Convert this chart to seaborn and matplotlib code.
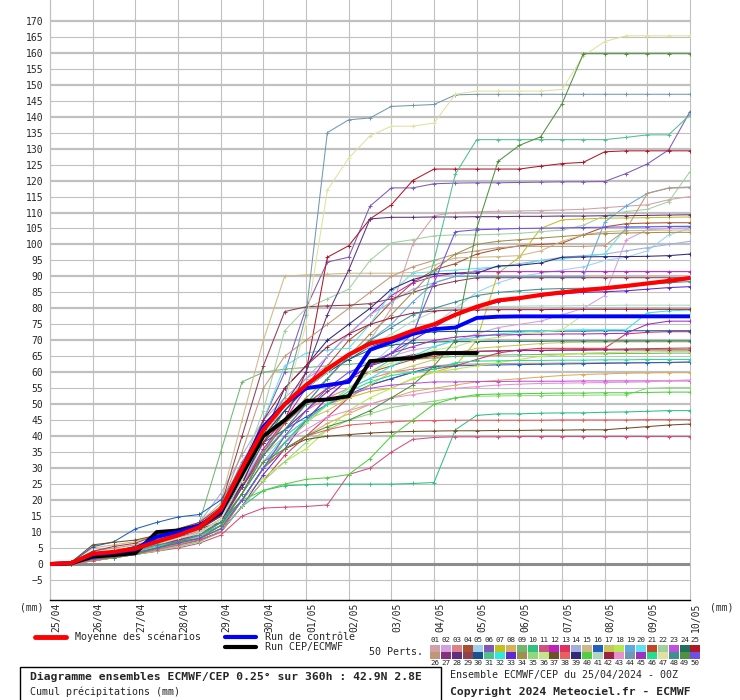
import pandas as pd
import seaborn as sns
import matplotlib.pyplot as plt
import matplotlib.transforms as mtransforms
from matplotlib.lines import Line2D
from matplotlib.patches import Rectangle

# time axis: one value every 12 h over 360 h (25/04 00Z -> 10/05 00Z)
hours = list(range(0, 361, 12))
day_labels = ["25/04", "26/04", "27/04", "28/04", "29/04", "30/04", "01/05", "02/05",
              "03/05", "04/05", "05/05", "06/05", "07/05", "08/05", "09/05", "10/05"]

member_colors = [
    "#d4a0a8", "#d4a0e0", "#e08088", "#a85030", "#a0d0f0", "#8058b8", "#c0c020", "#d8b060",
    "#70b870", "#30c080", "#d05080", "#c020c0", "#e03060", "#a0b0e0", "#d0b888", "#2060c0",
    "#c8c860", "#b8e850", "#60a8e0", "#60e0f0", "#c04828", "#a0d0a0", "#c050e0", "#207060",
    "#b01828", "#c09878", "#883080", "#603080", "#904050", "#185090", "#50c090", "#30e8e0",
    "#6028d0", "#a09050", "#90d880", "#c0e888", "#705028", "#e86060", "#302878", "#50d040",
    "#b0d8c0", "#a02040", "#e890d0", "#7098b0", "#a030c0", "#20e090", "#e0e0a0", "#409090",
    "#509040", "#7050e0",
]

# cumulative precipitation (mm) of the 50 perturbed members
m01 = [0, 0.3, 2.5, 3.5, 5, 7, 9, 10.5, 15, 25, 38, 50, 58, 62, 65, 70, 80, 100, 109, 110, 110.2, 110.4, 110.5, 110.6, 110.8, 111, 111.5, 112, 112.4, 114, 115]
m02 = [0, 0.2, 2, 3, 4, 6, 8, 10, 14, 25, 36, 45, 50, 55, 58, 62, 65, 67, 68, 70, 72, 74, 75, 76, 78, 80, 84, 101.4, 104.6, 105, 105.2]
m03 = [0, 0.2, 2, 3, 4, 6, 7.5, 9, 13, 22, 34, 42, 48, 52, 55, 58, 60, 61, 62, 62.5, 62.6, 62.7, 62.8, 62.8, 62.9, 62.9, 63, 63, 63, 63, 63.2]
m04 = [0, 0.3, 3, 4, 5, 7, 9, 11, 15, 28, 40, 48, 55, 62, 70, 75, 82, 88, 92, 94, 97, 98.5, 99.6, 100, 100.4, 103, 105.5, 106.5, 106.7, 106.8, 106.8]
m05 = [0, 0.2, 2, 3, 4, 6, 8, 10, 14, 26, 36, 44, 50, 55, 58, 62, 68, 72, 75, 80, 85, 88, 90, 91, 92, 93, 95, 96, 98, 103, 105]
m06 = [0, 0.2, 2, 3, 4.5, 6.5, 8.5, 10, 14, 28, 45, 60, 80, 94.5, 96, 112, 117.7, 117.7, 119, 119.2, 119.3, 119.3, 119.4, 119.5, 119.6, 119.6, 119.7, 122.2, 125.2, 129.6, 141.6]
m07 = [0, 0.1, 1.5, 2.5, 3.5, 5, 6.5, 8, 11, 20, 30, 40, 45, 50, 52, 54, 55, 58, 60, 62, 70, 91, 96, 105, 107.7, 108, 108.2, 108.3, 108.4, 108.5, 108.6]
m08 = [0, 0.1, 1.5, 2.5, 3.5, 5, 6.5, 8, 11, 20, 30, 36, 40, 44, 47, 50, 52, 54, 55, 56, 57, 57.5, 58, 58.5, 59, 59.3, 59.5, 59.7, 59.8, 59.9, 59.9]
m09 = [0, 0.3, 3, 4, 5, 7, 9, 13, 35, 57, 60, 61, 61.5, 62, 62.5, 63, 63.5, 64, 64.5, 65, 65.2, 65.4, 65.5, 65.6, 65.7, 65.8, 65.8, 65.9, 65.9, 66, 66]
m10 = [0, 0.1, 1, 2, 3, 4, 5.5, 7, 10, 18, 23, 24.5, 24.8, 25, 25, 25, 25, 25.2, 25.5, 42, 46.5, 47, 47, 47.2, 47.3, 47.3, 47.5, 47.6, 47.8, 48, 48]
m11 = [0, 0.1, 1, 2, 3, 4, 5, 6.5, 9, 15, 17.5, 17.8, 18, 18.5, 28, 30, 35, 39, 39.6, 39.8, 39.8, 39.8, 39.9, 39.9, 39.9, 39.9, 39.9, 39.9, 39.9, 39.9, 39.9]
m12 = [0, 0.2, 2, 3, 4, 6, 8, 9.5, 13, 24, 36, 45, 55, 65, 72, 78, 84, 88, 90, 91, 91.5, 91.5, 91.5, 91.5, 91.5, 91.5, 91.5, 91.5, 91.5, 91.5, 91.5]
m13 = [0, 0.1, 1, 2, 3, 4.5, 6, 7.5, 10, 18, 26, 34, 40, 46, 52, 56, 58, 60, 61, 62, 64, 66, 67, 67.5, 67.5, 67.5, 67.5, 72, 72.5, 72.7, 72.7]
m14 = [0, 0.3, 3, 4, 5, 7, 10, 13, 22, 34, 45, 52, 58, 65, 72, 78, 82, 86, 88, 90, 92, 93, 94, 95, 96, 96.5, 97, 98, 99, 100, 101]
m15 = [0, 0.5, 5, 6, 7, 9, 11, 13, 19, 45, 70, 90, 90.5, 90.7, 91, 91, 91, 91.2, 93.5, 95.8, 96, 96.2, 96.5, 98, 101, 103, 104, 104.3, 104.4, 104.5, 104.5]
m16 = [0, 0.5, 5.4, 7, 11, 13, 14.7, 15.5, 20, 30, 38, 42, 46, 50, 53, 56, 58, 60, 61.8, 62, 62.2, 62.3, 62.4, 62.5, 62.6, 62.7, 62.8, 62.9, 63, 63.1, 63.2]
m17 = [0, 0.1, 1.5, 2.5, 3.5, 5, 6.5, 8, 12, 24, 34, 40, 45, 48, 52, 56, 60, 62, 64, 66, 67.5, 68, 68.5, 69, 69.3, 69.4, 69.4, 69.5, 69.5, 69.5, 69.5]
m18 = [0, 0.1, 1.5, 2.5, 3.5, 5, 6.5, 8, 11, 20, 27, 32, 36, 42, 48, 52, 55, 58, 60, 61, 62, 63, 64, 65, 65.5, 66, 66.2, 66.3, 66.4, 66.5, 66.5]
m19 = [0, 0.2, 2, 3, 4.5, 6, 8, 10, 14, 24, 35, 42, 50, 58, 65, 70, 75, 82, 88, 90, 90, 90, 90, 90, 90, 90, 107, 112, 116, 117.7, 118]
m20 = [0, 0.1, 1.5, 2.5, 3.5, 5, 7, 9, 13, 30, 45, 62, 66, 67, 67.5, 75, 85, 91, 91.5, 92, 92.5, 93, 93.5, 95, 95.5, 96.2, 97, 105.2, 105.6, 105.7, 105.8]
m21 = [0, 0.2, 2, 3, 4, 6, 8, 9.5, 13, 24, 35, 44, 50, 55, 58, 60, 62, 64, 65, 66, 66.5, 66.7, 66.8, 66.9, 67, 67.1, 67.2, 67.3, 67.4, 67.5, 67.6]
m22 = [0, 0.2, 2, 3, 4, 6, 8, 10, 16, 30, 48, 73, 80, 83, 86, 95, 100.5, 101.5, 102.7, 103, 103, 103.2, 103.5, 104, 104.5, 106, 109, 110.3, 111, 113.4, 122.8]
m23 = [0, 0.1, 1.5, 2.5, 3.5, 5, 6.5, 8, 11, 20, 30, 38, 44, 50, 53, 55, 56, 56.5, 57, 57, 57.1, 57.1, 57.2, 57.2, 57.2, 57.3, 57.3, 57.3, 57.3, 57.3, 57.3]
m24 = [0, 0.3, 3, 4, 5, 7.5, 9.5, 11, 15, 26, 38, 48, 55, 60, 64, 67, 68.5, 69.2, 69.5, 69.6, 69.6, 69.7, 69.7, 69.7, 69.8, 69.8, 69.8, 69.8, 69.8, 69.8, 69.8]
m25 = [0, 0.3, 3, 4, 5.5, 8, 10, 12, 16, 30, 38, 45, 60, 96, 99.6, 108, 112.4, 120, 123.6, 123.6, 123.6, 123.6, 123.6, 124.5, 125.3, 125.7, 129, 129.3, 129.3, 129.3, 129.3]
m26 = [0, 0.5, 4, 5, 6, 8, 10, 12, 18, 35, 55, 65, 70, 75, 80, 85, 90, 93, 95, 97, 98, 99, 99.4, 99.4, 99.4, 99.4, 99.6, 104.6, 116, 117.6, 117.8]
m27 = [0, 0.2, 2, 3, 4, 6, 7.5, 9, 13, 24, 34, 42, 48, 54, 58, 62, 64, 65.5, 66.2, 66.5, 66.6, 66.7, 66.8, 66.8, 66.9, 66.9, 67, 67, 67, 67, 67]
m28 = [0, 0.2, 2, 3, 4, 6, 7.5, 9, 13, 25, 40, 50, 60, 78, 92, 108, 108.5, 108.5, 108.6, 108.6, 108.7, 108.7, 108.8, 108.8, 108.9, 108.9, 109, 109, 109.1, 109.2, 109.3]
m29 = [0, 0.4, 4, 5.5, 6.5, 9, 11, 13, 18, 40, 62, 79, 80.5, 80.8, 81, 81.5, 83, 85, 87, 88.5, 89.6, 89.6, 89.6, 89.6, 89.6, 89.6, 89.6, 89.6, 89.6, 89.6, 89.6]
m30 = [0, 0.3, 3, 4, 5.5, 8, 10.5, 11.5, 15, 28, 40, 48, 55, 60, 64, 68, 70, 72, 72.7, 72.8, 72.8, 72.8, 72.9, 72.9, 72.9, 72.9, 73, 73, 73, 73, 73]
m31 = [0, 0.1, 1.5, 2.5, 3.5, 5, 7, 8.5, 12, 20, 30, 38, 44, 50, 55, 60, 64, 70, 95, 122, 132.8, 132.8, 132.8, 132.8, 132.8, 132.8, 132.8, 133.5, 134.3, 134.3, 140.6]
m32 = [0, 0.1, 1.5, 2.5, 3.5, 5, 7, 9, 13, 22, 32, 40, 45, 50, 55, 58, 62, 65, 68, 70, 71, 72, 72.5, 73, 73.2, 73.3, 73.3, 73.3, 78.6, 79.2, 79.5]
m33 = [0, 0.1, 1, 2, 3, 4.5, 6, 7.5, 10, 18, 28, 36, 45, 52, 58, 62, 66, 70, 74, 78, 80, 82, 83, 84, 84.5, 85, 85.2, 85.5, 86, 86.5, 86.8]
m34 = [0, 0.1, 1.5, 2, 3, 5, 6.5, 8, 12, 22, 35, 45, 52, 58, 65, 72, 78, 85, 92, 97, 100, 101, 101.5, 102, 102.5, 103, 103.4, 103.6, 103.7, 103.8, 103.8]
m35 = [0, 0.1, 1, 2, 3, 4, 5.5, 7, 10, 18, 26, 32, 38, 42, 45, 47, 49, 50, 51, 52, 52.5, 52.6, 52.7, 52.7, 52.8, 52.8, 52.9, 52.9, 55, 55.2, 55.2]
m36 = [0, 0.1, 1, 2, 3, 4.5, 6, 8, 11, 20, 30, 38, 44, 50, 55, 60, 63, 65, 67, 68, 70, 71, 72, 72.5, 73.3, 78, 78, 78, 78, 78, 78]
m37 = [0, 0.6, 6, 6.8, 7.5, 9, 10, 11, 13, 20, 30, 36, 39, 40, 40.5, 41, 41.3, 41.5, 41.6, 41.7, 41.7, 41.8, 41.8, 41.9, 41.9, 42, 42, 42.5, 43, 43.5, 43.8]
m38 = [0, 0.1, 1, 2, 3, 4.5, 6, 7.5, 10, 20, 30, 36, 40, 42, 43.5, 44, 44.5, 44.8, 44.9, 45, 45, 45, 45, 45, 45.1, 45.1, 45.1, 45.1, 45.2, 45.2, 45.2]
m39 = [0, 0.2, 2.5, 3.5, 4.5, 7, 9, 11, 15, 25, 40, 55, 62, 70, 75, 80, 86, 89, 90.8, 91, 91, 93.3, 93.5, 94.2, 96, 96.1, 96.2, 96.2, 96.3, 96.5, 97]
m40 = [0, 0.2, 1.5, 2.5, 3.5, 5, 6.5, 8, 11, 20, 23, 25, 26.5, 27, 28, 33, 40, 45, 50, 52, 53, 53.2, 53.3, 53.4, 53.5, 53.5, 53.6, 53.6, 53.7, 53.8, 53.8]
m41 = [0, 0.2, 2, 3, 4, 6, 8, 10, 14, 28, 42, 50, 55, 60, 65, 68, 72, 76, 79, 80, 80.5, 80.6, 80.7, 80.8, 80.8, 80.9, 80.9, 81, 81, 81, 81]
m42 = [0, 0.3, 3, 4, 5, 7, 9, 11, 15, 30, 45, 55, 62, 68, 72, 75, 77, 78.5, 79.2, 79.5, 79.5, 79.6, 79.6, 79.6, 79.7, 79.7, 79.7, 79.7, 79.7, 79.7, 79.7]
m43 = [0, 0.2, 2, 3, 4, 5.5, 7, 8.5, 12, 22, 32, 38, 42, 46, 48, 50, 52, 53, 54, 55, 55.5, 56, 56.3, 56.5, 56.6, 56.7, 56.8, 56.9, 57, 57.4, 57.6]
m44 = [0, 0.3, 3, 4, 5, 8, 10, 12, 18, 32, 42, 52, 78, 135, 139, 139.6, 143.2, 143.5, 143.8, 146.8, 147, 147, 147, 147, 147, 147, 147, 147, 147, 147, 147]
m45 = [0, 0.2, 2, 3, 4, 6, 7.5, 9, 12, 20, 30, 38, 45, 52, 58, 62, 66, 68, 70, 71, 71.5, 71.7, 71.8, 71.9, 72, 72, 72.1, 72.2, 75, 76, 76]
m46 = [0, 0.2, 2, 3, 4, 5.5, 7, 9, 12, 20, 30, 38, 45, 50, 54, 57, 59, 60, 61, 63, 63.5, 63.6, 63.7, 63.7, 63.8, 63.8, 63.9, 63.9, 64, 64, 64]
m47 = [0, 0.2, 2.2, 3, 4, 6, 8, 9.5, 14, 26, 40, 50, 75, 117, 127, 134, 137, 137, 138, 147, 148, 148, 148, 148, 148.5, 159, 163.5, 165.3, 165.3, 165.3, 165.3]
m48 = [0, 0.2, 2, 3, 4, 6, 7, 9, 13, 22, 34, 42, 50, 58, 65, 70, 74, 78, 80, 82, 84, 85, 85.5, 86, 86.2, 86.3, 86.5, 87, 87.5, 88, 88.4]
m49 = [0, 0.1, 1.5, 2, 3, 5, 7, 8, 12, 22, 32, 36, 40, 43, 45, 48, 52, 56, 62, 70, 105, 126, 131, 133.7, 144, 159.7, 159.7, 159.7, 159.7, 159.7, 159.7]
m50 = [0, 0.2, 1.5, 2.5, 3.5, 5, 6.5, 8, 11, 20, 30, 40, 48, 55, 60, 63, 66, 72, 88, 104, 104.6, 104.8, 105, 105.1, 105.2, 105.3, 105.4, 105.5, 105.5, 105.6, 105.6]

# ensemble mean, control run and deterministic run (det. stops at 240 h)
mean_run = [0, 0.3, 3.2, 3.8, 4.8, 7, 9, 11.5, 17, 30, 42, 50, 56, 61, 65.5, 69, 70.5, 73, 75, 78, 80.5, 82.5, 83.2, 84.2, 85, 85.7, 86.3, 87, 87.8, 88.6, 89.5]
control_run = [0, 0.3, 3, 3.6, 4.6, 8.5, 10, 12, 16.5, 30, 43, 50, 55, 56, 57, 67, 69.5, 72, 73.5, 74, 77, 77.4, 77.5, 77.5, 77.5, 77.5, 77.5, 77.5, 77.5, 77.5, 77.5]
det_run = [0, 0.2, 2.3, 2.8, 3.4, 10, 10.5, 12, 16, 28, 40, 45, 51, 51.5, 52.5, 63.5, 64, 64.5, 66, 66, 66]

members = [m01, m02, m03, m04, m05, m06, m07, m08, m09, m10, m11, m12, m13, m14, m15, m16, m17,
           m18, m19, m20, m21, m22, m23, m24, m25, m26, m27, m28, m29, m30, m31, m32, m33, m34,
           m35, m36, m37, m38, m39, m40, m41, m42, m43, m44, m45, m46, m47, m48, m49, m50]

rows = []
for k, vals in enumerate(members):
    for h, v in zip(hours, vals):
        rows.append({"member": f"{k + 1:02d}", "hour": h, "mm": v})
df = pd.DataFrame(rows)

sns.set_style("white")
plt.rcParams["font.family"] = ["DejaVu Sans Mono"]

W, H = 740, 700
fig = plt.figure(figsize=(W / 100, H / 100), dpi=100)
ax = fig.add_axes([50 / W, 100 / H, 640 / W, 600 / H])

# background grid like meteociel
for y in range(-5, 171, 5):
    if y == 0:
        ax.axhline(y, color="#8c8c8c", lw=2.2, zorder=1)
    elif y % 10 == 0:
        ax.axhline(y, color="#c0c0c0", lw=1.6, zorder=0.5)
    else:
        ax.axhline(y, color="#c0c0c0", lw=0.8, zorder=0.5)
for h in range(0, 361, 24):
    ax.axvline(h, color="#c0c0c0", lw=0.8, zorder=0.5, clip_on=False)

sns.lineplot(data=df, x="hour", y="mm", hue="member", palette=member_colors, legend=False,
             lw=0.75, marker="+", markersize=3.5, markeredgewidth=0.7, ax=ax, zorder=2)
for line in ax.lines:
    if line.get_marker() == "+":
        line.set_markeredgecolor(line.get_color())

sns.lineplot(x=hours[:len(det_run)], y=det_run, color="black", lw=2.8, ax=ax, zorder=3)
sns.lineplot(x=hours, y=control_run, color="#0000ff", lw=2.8, ax=ax, zorder=4)
sns.lineplot(x=hours, y=mean_run, color="#ff0000", lw=3.0, ax=ax, zorder=5)

ax.set_xlim(0, 360)
ax.set_ylim(-11.26, 176.5)
ax.set_yticks(range(-5, 171, 5))
ax.tick_params(axis="y", length=0, pad=5, labelsize=7)
ax.set_xticks([])
ax.set_xlabel("")
ax.set_ylabel("")
for s in ["top", "right"]:
    ax.spines[s].set_visible(False)
ax.spines["left"].set_color("#c0c0c0")
ax.spines["left"].set_linewidth(0.8)
ax.spines["bottom"].set_color("black")
ax.spines["bottom"].set_linewidth(1.0)

trans = mtransforms.offset_copy(ax.get_xaxis_transform(), fig=fig, x=6, y=-3, units="dots")
for h, lab in zip(range(0, 361, 24), day_labels):
    ax.text(h, 0, lab, transform=trans, rotation=90, ha="center", va="top", fontsize=7)


def fx(x):
    return x / W


def fy(y):
    return 1 - y / H


fig.text(fx(20), fy(607), "(mm)", fontsize=7, va="center")
fig.text(fx(710), fy(607), "(mm)", fontsize=7, va="center")

# legend
fig.add_artist(Line2D([fx(35), fx(66)], [fy(637), fy(637)], color="#ff0000", lw=3.5))
fig.text(fx(75), fy(637), "Moyenne des scénarios", fontsize=7.2, va="center")
fig.add_artist(Line2D([fx(225), fx(256)], [fy(637), fy(637)], color="#0000ff", lw=3))
fig.text(fx(265), fy(637), "Run de contrôle", fontsize=7.2, va="center")
fig.add_artist(Line2D([fx(225), fx(256)], [fy(647), fy(647)], color="black", lw=3))
fig.text(fx(265), fy(647), "Run CEP/ECMWF", fontsize=7.2, va="center")

# member colour key
fig.text(fx(369), fy(652), "50 Perts.", fontsize=7.2, va="center")
cell = 10.85
for k in range(25):
    x0 = 430 + k * cell
    for row, idx in enumerate([k, k + 25]):
        y0 = 645 + row * 7
        fig.add_artist(Rectangle((fx(x0), fy(y0 + 6.5)), 10 / W, 6.5 / H,
                                 facecolor=member_colors[idx], edgecolor="none"))
    fig.text(fx(x0 + 5), fy(639.5), f"{k + 1:02d}", fontsize=5.4, ha="center", va="center")
    fig.text(fx(x0 + 5), fy(663), f"{k + 26:02d}", fontsize=5.4, ha="center", va="center")

# title box
fig.add_artist(Rectangle((fx(20), fy(703)), 421 / W, 36 / H, facecolor="none",
                         edgecolor="black", lw=1))
fig.text(fx(30), fy(677), "Diagramme ensembles ECMWF/CEP 0.25° sur 360h : 42.9N 2.8E",
         fontsize=8.2, fontweight="bold", va="center")
fig.text(fx(30), fy(692), "Cumul précipitations (mm)", fontsize=7.2, va="center")
fig.text(fx(450), fy(675), "Ensemble ECMWF/CEP du 25/04/2024 - 00Z", fontsize=7.2, va="center")
fig.text(fx(450), fy(692), "Copyright 2024 Meteociel.fr - ECMWF", fontsize=8.2,
         fontweight="bold", va="center")

fig.savefig("out.png", dpi=100)
